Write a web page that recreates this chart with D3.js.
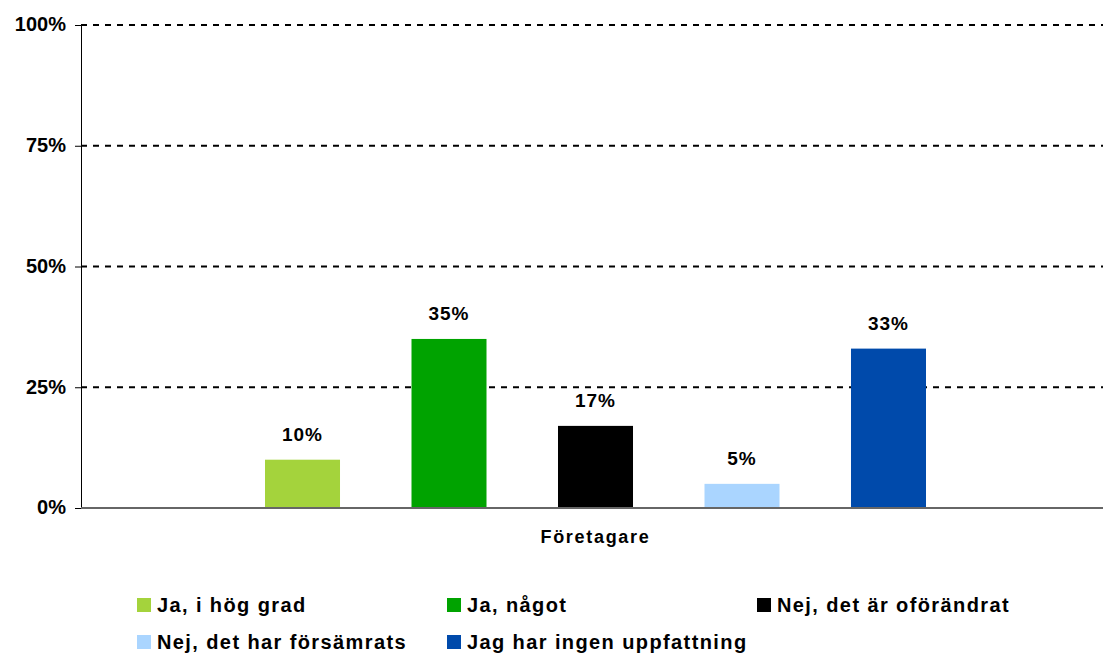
<!DOCTYPE html>
<html>
<head>
<meta charset="utf-8">
<script src="https://cdn.jsdelivr.net/npm/d3@7"></script>
<style>
  body { margin: 0; background: #fff; }
  text { font-family: "Liberation Sans", Arial, sans-serif; font-weight: bold; fill: #000; }
</style>
</head>
<body>
<div id="chart"></div>
<script>
// data
var categories = ["Företagare"];
var seriesNames = ["Ja, i hög grad", "Ja, något", "Nej, det är oförändrat", "Nej, det har försämrats", "Jag har ingen uppfattning"];
var seriesValues = [10, 35, 17, 5, 33];
var seriesColors = ["#a4d33c", "#00a300", "#000000", "#aad5ff", "#004aab"];
var yTicks = [0, 25, 50, 75, 100];

function main(){
	var width = 1103,
		height = 655;
	var left = 81, right = 1110, top = 25, bottom = 508;

	var svg = d3.select("#chart").append("svg")
		.attr("width", width)
		.attr("height", height);

	var y = d3.scaleLinear().domain([0, 100]).range([bottom, top]);

	var x0 = d3.scaleBand().domain(categories).range([left, right])
		.paddingInner(0).paddingOuter(0.2024);
	var x1 = d3.scaleBand().domain(seriesNames).range([0, x0.bandwidth()])
		.paddingInner(0.488).paddingOuter(0.244);

	// dashed gridlines
	svg.append("g").selectAll("line")
		.data(yTicks.filter(function(d){ return d > 0; }))
		.enter().append("line")
		.attr("x1", left).attr("x2", width)
		.attr("y1", function(d){ return y(d); })
		.attr("y2", function(d){ return y(d); })
		.attr("stroke", "#000")
		.attr("stroke-width", 2)
		.attr("stroke-dasharray", "6,6");

	// y axis
	var yAxis = svg.append("g")
		.attr("transform", "translate(" + left + ",0)")
		.call(d3.axisLeft(y).tickValues(yTicks).tickSize(6).tickPadding(9)
			.tickFormat(function(d){ return d + "%"; }));
	yAxis.select(".domain").attr("stroke", "#000").attr("d", "M0.5," + bottom + "V" + top);
	yAxis.selectAll(".tick line").attr("stroke", "#000");
	yAxis.selectAll("text")
		.style("font-size", "20px")
		.attr("dy", "0.29em")
		.attr("fill", "#000");
	yAxis.attr("font-family", null).attr("font-size", null);

	// bars
	var group = svg.append("g").selectAll("g")
		.data(categories)
		.enter().append("g")
		.attr("transform", function(d){ return "translate(" + x0(d) + ",0)"; });

	group.selectAll("rect")
		.data(seriesNames.map(function(n, i){ return {name: n, value: seriesValues[i], color: seriesColors[i]}; }))
		.enter().append("rect")
		.attr("x", function(d){ return x1(d.name); })
		.attr("width", x1.bandwidth())
		.attr("y", function(d){ return y(d.value); })
		.attr("height", function(d){ return bottom - y(d.value); })
		.attr("fill", function(d){ return d.color; });

	group.selectAll(".lbl")
		.data(seriesNames.map(function(n, i){ return {name: n, value: seriesValues[i]}; }))
		.enter().append("text")
		.attr("class", "lbl")
		.attr("x", function(d){ return x1(d.name) + x1.bandwidth() / 2; })
		.attr("y", function(d){ return y(d.value) - 19; })
		.attr("text-anchor", "middle")
		.style("font-size", "19px")
		.style("letter-spacing", "1px")
		.text(function(d){ return d.value + "%"; });

	// x axis line
	svg.append("line")
		.attr("x1", left).attr("x2", width)
		.attr("y1", bottom).attr("y2", bottom)
		.attr("stroke", "#666")
		.attr("stroke-width", 2);

	// category label
	svg.selectAll(".cat")
		.data(categories)
		.enter().append("text")
		.attr("class", "cat")
		.attr("x", function(d){ return x0(d) + x0.bandwidth() / 2; })
		.attr("y", 543)
		.attr("text-anchor", "middle")
		.style("font-size", "18px")
		.style("letter-spacing", "1.7px")
		.text(function(d){ return d; });

	// legend
	var legendX = [137, 447, 757];
	var legendY = [605, 642];
	var legend = svg.append("g").selectAll("g")
		.data(seriesNames)
		.enter().append("g")
		.attr("transform", function(d, i){
			return "translate(" + legendX[i % 3] + "," + legendY[Math.floor(i / 3)] + ")";
		});
	legend.append("rect")
		.attr("x", 0).attr("y", -7)
		.attr("width", 14).attr("height", 14)
		.attr("fill", function(d, i){ return seriesColors[i]; });
	legend.append("text")
		.attr("x", 20).attr("y", 7)
		.style("font-size", "20px")
		.style("letter-spacing", "1.4px")
		.text(function(d){ return d; });
}

main();
</script>
</body>
</html>
